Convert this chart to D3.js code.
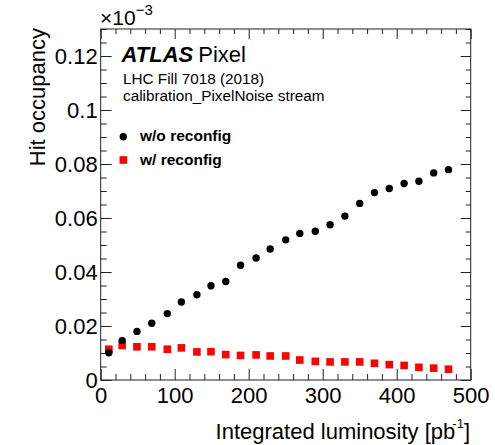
<!DOCTYPE html>
<html>
<head>
<meta charset="utf-8">
<script src="https://cdn.jsdelivr.net/npm/d3@7"></script>
<style>
  body { margin: 0; background: #fff; }
  svg text { font-family: "Liberation Sans", Arial, Helvetica, sans-serif; fill: #000; }
</style>
</head>
<body>
<svg width="495" height="445"></svg>
<script>
// integrated luminosity [pb^-1]
var lumi = [11, 29, 49, 69, 90, 109, 130, 149, 169, 189, 210, 229, 250, 269, 290, 310, 330, 350, 370, 390, 410, 430, 450, 470];
// hit occupancy (x 10^-3)
var noReconfig = [0.0101, 0.0146, 0.0180, 0.0210, 0.0246, 0.0289, 0.0316, 0.0349, 0.0365, 0.0425, 0.0452, 0.0485,
                  0.0519, 0.0543, 0.0551, 0.0575, 0.0607, 0.0654, 0.0694, 0.0709, 0.0728, 0.0736, 0.0767, 0.0779];
var withReconfig = [0.0114, 0.0128, 0.0123, 0.0123, 0.0114, 0.0119, 0.0104, 0.0105, 0.0094, 0.0091, 0.0093, 0.0089,
                    0.0089, 0.0074, 0.0069, 0.0067, 0.0067, 0.0067, 0.0062, 0.0057, 0.0054, 0.0047, 0.0044, 0.0040];

var xTicks = [0, 100, 200, 300, 400, 500];
var xTickLabels = ["0", "100", "200", "300", "400", "500"];
var yTicks = [0, 0.02, 0.04, 0.06, 0.08, 0.1, 0.12];
var yTickLabels = ["0", "0.02", "0.04", "0.06", "0.08", "0.1", "0.12"];
var seriesNames = ["w/o reconfig", "w/ reconfig"];

var svg = d3.select("svg"),
    padL = 100.7, padR = 470.7, padT = 29, padB = 380;

var x = d3.scaleLinear().domain([0, 500]).range([padL, padR]);
var y = d3.scaleLinear().domain([0, 0.13]).range([padB, padT]);

var xMinor = d3.range(0, 501, 20).filter(function(v) { return v % 100 !== 0; });
var yMinor = d3.range(0, 0.1301, 0.005).filter(function(v) { return Math.abs(v / 0.02 - Math.round(v / 0.02)) > 1e-6; });

function clean(g) {
  g.select(".domain").remove();
  g.selectAll(".tick line").attr("stroke", "#222");
}

// bottom axis, ticks pointing inward
svg.append("g").attr("transform", "translate(0," + padB + ")")
  .call(d3.axisBottom(x).tickValues(xTicks).tickSizeInner(-11).tickSizeOuter(0).tickPadding(7)
    .tickFormat(function(d, i) { return xTickLabels[i]; }))
  .call(clean)
  .selectAll("text").attr("font-size", 22).attr("font-family", null).attr("fill", "#111");
svg.append("g").attr("transform", "translate(0," + padB + ")")
  .call(d3.axisBottom(x).tickValues(xMinor).tickSizeInner(-6).tickSizeOuter(0).tickFormat(""))
  .call(clean);
// top axis
svg.append("g").attr("transform", "translate(0," + padT + ")")
  .call(d3.axisBottom(x).tickValues(xTicks).tickSize(10).tickFormat(""))
  .call(clean);
svg.append("g").attr("transform", "translate(0," + padT + ")")
  .call(d3.axisBottom(x).tickValues(xMinor).tickSize(5).tickFormat(""))
  .call(clean);

// left axis
svg.append("g").attr("transform", "translate(" + padL + ",0)")
  .call(d3.axisLeft(y).tickValues(yTicks).tickSizeInner(-11).tickSizeOuter(0).tickPadding(3)
    .tickFormat(function(d, i) { return yTickLabels[i]; }))
  .call(clean)
  .selectAll("text").attr("font-size", 22).attr("font-family", null).attr("fill", "#111");
svg.append("g").attr("transform", "translate(" + padL + ",0)")
  .call(d3.axisLeft(y).tickValues(yMinor).tickSizeInner(-6).tickSizeOuter(0).tickFormat(""))
  .call(clean);
// right axis
svg.append("g").attr("transform", "translate(" + padR + ",0)")
  .call(d3.axisLeft(y).tickValues(yTicks).tickSize(10).tickFormat(""))
  .call(clean);
svg.append("g").attr("transform", "translate(" + padR + ",0)")
  .call(d3.axisLeft(y).tickValues(yMinor).tickSize(5).tickFormat(""))
  .call(clean);

// frame
svg.append("rect")
  .attr("x", padL).attr("y", padT)
  .attr("width", padR - padL).attr("height", padB - padT)
  .attr("fill", "none").attr("stroke", "#222").attr("stroke-width", 1);

// data
var pts = lumi.map(function(l, i) { return {l: l, a: noReconfig[i], b: withReconfig[i]}; });

svg.append("g").selectAll("rect")
  .data(pts).enter().append("rect")
  .attr("x", function(d) { return x(d.l) - 3.8; })
  .attr("y", function(d) { return y(d.b) - 3.8; })
  .attr("width", 7.6).attr("height", 7.6)
  .attr("fill", "#ff0000");

svg.append("g").selectAll("circle")
  .data(pts).enter().append("circle")
  .attr("cx", function(d) { return x(d.l); })
  .attr("cy", function(d) { return y(d.a); })
  .attr("r", 3.7)
  .attr("fill", "#000");

// exponent
var ex = svg.append("text").attr("x", 100).attr("y", 25).attr("font-size", 21);
ex.append("tspan").text("\u00d710");
ex.append("tspan").attr("font-size", 15).attr("dy", -10).text("\u22123");

// axis titles
svg.append("text")
  .attr("transform", "translate(45,28) rotate(-90)")
  .attr("text-anchor", "end")
  .attr("font-size", 22)
  .text("Hit occupancy");

var xt = svg.append("text").attr("x", 470).attr("y", 439)
  .attr("text-anchor", "end").attr("font-size", 22);
xt.append("tspan").text("Integrated luminosity [pb");
xt.append("tspan").attr("font-size", 13).attr("dy", -11).attr("dx", -3).text("-1");
xt.append("tspan").attr("dy", 11).text("]");

// labels
var at = svg.append("text").attr("x", 121.5).attr("y", 62).attr("font-size", 22);
at.append("tspan").attr("font-weight", "bold").attr("font-style", "italic").text("ATLAS");
at.append("tspan").attr("dx", 5).text("Pixel");

svg.append("text").attr("x", 123).attr("y", 83.5).attr("font-size", 15.3).text("LHC Fill 7018 (2018)");
svg.append("text").attr("x", 123).attr("y", 101).attr("font-size", 15.3).text("calibration_PixelNoise stream");

// legend
var leg = svg.append("g");
leg.append("circle").attr("cx", 123.3).attr("cy", 136.7).attr("r", 3.7).attr("fill", "#000");
leg.append("rect").attr("x", 119.5).attr("y", 156.2).attr("width", 7.6).attr("height", 7.6).attr("fill", "#ff0000");
leg.selectAll("text.lab").data(seriesNames).enter().append("text")
  .attr("class", "lab")
  .attr("x", 140)
  .attr("y", function(d, i) { return 141 + i * 23.5; })
  .attr("font-size", 15.5).attr("font-weight", "bold")
  .text(function(d) { return d; });
</script>
</body>
</html>
